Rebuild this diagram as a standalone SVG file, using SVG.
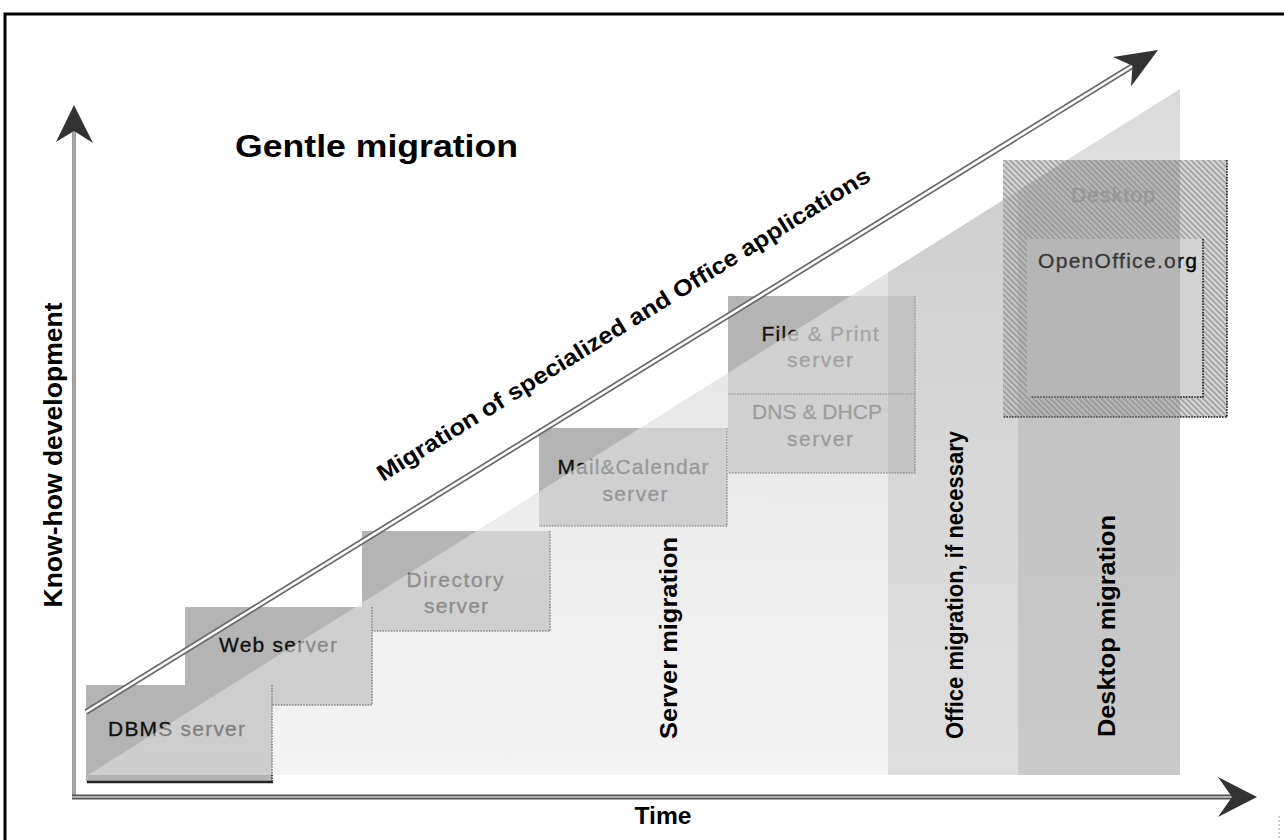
<svg xmlns="http://www.w3.org/2000/svg" width="1284" height="840" viewBox="0 0 1284 840">
<style>
  .box { fill: #b4b4b4; }
  .edge { fill: none; stroke: #1a1a1a; stroke-width: 1.6; stroke-dasharray: 1.6 1.2; }
  .bt { font-family: "Liberation Sans", Arial, sans-serif; font-size: 21px; fill: #111; stroke: #111; stroke-width: 0.35; }
  .lbl { font-family: "Liberation Sans", Arial, sans-serif; font-weight: bold; font-size: 24px; fill: #000; }
  .head { fill: #333; }
</style>
<defs>
  <linearGradient id="triGrad" gradientUnits="userSpaceOnUse" x1="0" y1="775" x2="0" y2="89">
    <stop offset="0" stop-color="#e7e7e7" stop-opacity="0.5"/>
    <stop offset="0.65" stop-color="#dcdcdc" stop-opacity="0.72"/>
    <stop offset="1" stop-color="#d3d3d3" stop-opacity="0.84"/>
  </linearGradient>
  <pattern id="hatch" width="4" height="4" patternUnits="userSpaceOnUse" patternTransform="rotate(-45)">
    <rect width="4" height="4" fill="#d6d6d6"/>
    <line x1="1" y1="0" x2="1" y2="4" stroke="#8e8e8e" stroke-width="1.3"/>
  </pattern>
  <clipPath id="triClip">
    <polygon points="88,775 1180,89 1180,775"/>
  </clipPath>
</defs>

<rect width="1284" height="840" fill="#ffffff"/>
<path d="M5,842 V14 H1286" fill="none" stroke="#000" stroke-width="3"/>
<line x1="1279" y1="816" x2="1279" y2="840" stroke="#999" stroke-width="1" stroke-dasharray="2 2"/>

<!-- server nodes (back to front) -->
<g id="dns-dhcp">
  <rect class="box" x="728" y="394" width="187" height="79"/>
  <path class="edge" d="M915,394 V473 H728"/>
  <text class="bt" x="817" y="419" text-anchor="middle" textLength="130">DNS &amp; DHCP</text>
  <text class="bt" x="820" y="446" text-anchor="middle" textLength="66">server</text>
</g>
<g id="file-print">
  <rect class="box" x="728" y="296" width="187" height="98"/>
  <path class="edge" d="M915,296 V394 H728"/>
  <text class="bt" x="820" y="341" text-anchor="middle" textLength="117">File &amp; Print</text>
  <text class="bt" x="820" y="367" text-anchor="middle" textLength="66">server</text>
</g>
<g id="mail-calendar">
  <rect class="box" x="539" y="428" width="188" height="98"/>
  <path class="edge" d="M727,428 V526 H539"/>
  <text class="bt" x="633" y="474" text-anchor="middle" textLength="151">Mail&amp;Calendar</text>
  <text class="bt" x="635" y="501" text-anchor="middle" textLength="65">server</text>
</g>
<g id="directory">
  <rect class="box" x="362" y="531" width="188" height="100"/>
  <path class="edge" d="M550,531 V631 H362"/>
  <text class="bt" x="455" y="587" text-anchor="middle" textLength="97">Directory</text>
  <text class="bt" x="456" y="613" text-anchor="middle" textLength="64">server</text>
</g>
<g id="web">
  <rect class="box" x="185" y="607" width="187" height="98"/>
  <path class="edge" d="M372,607 V705 H185"/>
  <text class="bt" x="219" y="652" textLength="118">Web server</text>
</g>
<g id="dbms">
  <rect class="box" x="86" y="685" width="186" height="97"/>
  <path class="edge" d="M272,685 V781"/>
  <line x1="87" y1="782" x2="273" y2="782" stroke="#222" stroke-width="2.5"/>
  <text class="bt" x="108" y="736" textLength="137">DBMS  server</text>
</g>

<!-- growth triangle overlay -->
<polygon id="triangle" points="88,775 1180,89 1180,775" fill="url(#triGrad)"/>

<g id="desktop">
  <rect x="1003" y="160" width="224" height="257" fill="url(#hatch)"/>
  <path class="edge" d="M1227,160 V417 H1003"/>
  <text class="bt" x="1113" y="202" text-anchor="middle" textLength="84" style="fill:#9c9c9c;stroke:#9c9c9c">Desktop</text>
  <rect x="1027" y="239" width="176" height="158" fill="#d2d2d2"/>
  <path class="edge" d="M1203,239 V397 H1030"/>
  <text class="bt" x="1038" y="268" textLength="159" style="fill:#000;stroke:#000">OpenOffice.org</text>
</g>

<!-- migration phase columns -->
<g id="columns" clip-path="url(#triClip)">
  <rect id="office-col" x="888" y="80" width="130" height="695" fill="#8c8c8c" fill-opacity="0.2"/>
  <rect id="desktop-col" x="1018" y="160" width="162" height="615" fill="#8c8c8c" fill-opacity="0.4"/>
</g>

<g id="phase-labels">
  <text class="lbl" transform="translate(677,638) rotate(-90)" text-anchor="middle" textLength="202" lengthAdjust="spacingAndGlyphs">Server migration</text>
  <text class="lbl" transform="translate(963,585) rotate(-90)" text-anchor="middle" textLength="308" lengthAdjust="spacingAndGlyphs" style="font-size:23px">Office migration, if necessary</text>
  <text class="lbl" transform="translate(1115,626) rotate(-90)" text-anchor="middle" textLength="222" lengthAdjust="spacingAndGlyphs">Desktop migration</text>
</g>

<text id="title" x="235" y="157" font-family="Liberation Sans, Arial, sans-serif" font-weight="bold" font-size="31" textLength="283" lengthAdjust="spacingAndGlyphs">Gentle migration</text>
<text id="y-label" class="lbl" transform="translate(62,455) rotate(-90)" text-anchor="middle" textLength="305" lengthAdjust="spacingAndGlyphs" style="font-size:25px">Know-how development</text>
<text id="x-label" class="lbl" x="663" y="824" text-anchor="middle" textLength="57" lengthAdjust="spacingAndGlyphs">Time</text>

<g id="connectors">
  <!-- y axis -->
  <line x1="74" y1="128" x2="74" y2="799" stroke="#7a7a7a" stroke-width="3.5"/>
  <line x1="74" y1="128" x2="74" y2="799" stroke="#b8b8b8" stroke-width="1.5"/>
  <polygon class="head" points="74,105 93,143 74,131 56,142"/>
  <!-- x axis -->
  <line x1="72" y1="797" x2="1234" y2="797" stroke="#555" stroke-width="5"/>
  <line x1="72" y1="797" x2="1234" y2="797" stroke="#b0b0b0" stroke-width="2"/>
  <polygon class="head" points="1257,797 1218,817 1232,797 1218,777"/>
  <!-- diagonal migration arrow -->
  <line x1="86" y1="712" x2="1134" y2="65" stroke="#6a6a6a" stroke-width="6"/>
  <line x1="86" y1="712" x2="1134" y2="65" stroke="#ffffff" stroke-width="2.6"/>
  <polygon class="head" points="1158,50 1131,86.5 1132.5,65.8 1113,57"/>
</g>

<text id="diag-label" class="lbl" transform="translate(383,482) rotate(-31.7)" textLength="575" lengthAdjust="spacingAndGlyphs" style="font-size:23px">Migration of specialized and Office applications</text>
</svg>
